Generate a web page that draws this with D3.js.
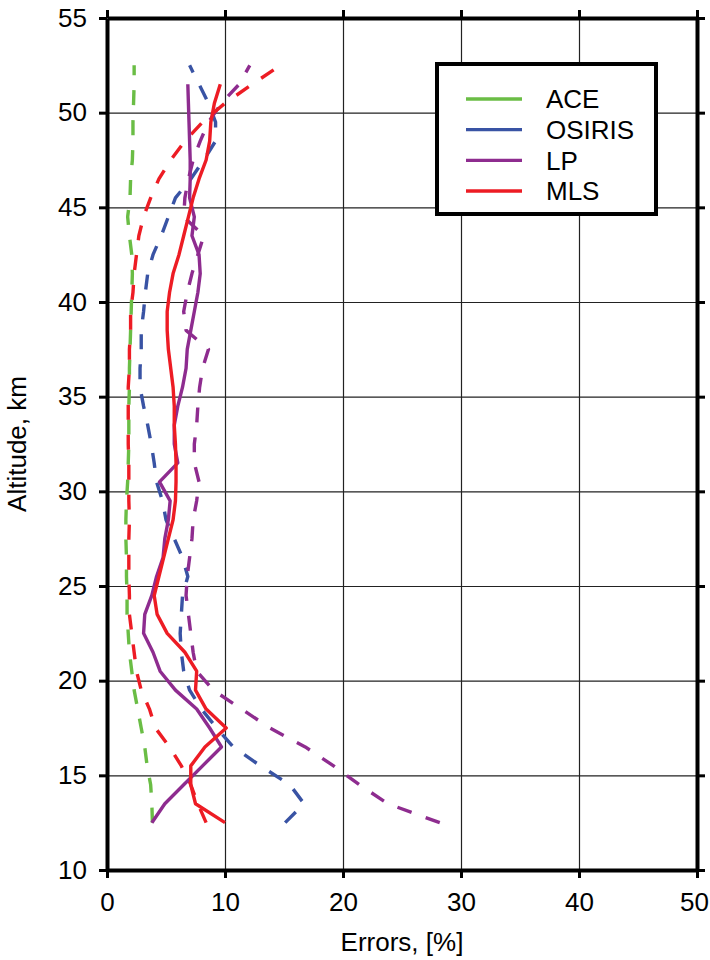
<!DOCTYPE html>
<html>
<head>
<meta charset="utf-8">
<script src="https://cdn.jsdelivr.net/npm/d3@7"></script>
<style>
  body { margin: 0; background: #fff; }
  text { font-family: "Liberation Sans", Arial, Helvetica, sans-serif; }
</style>
</head>
<body>
<svg id="chart"></svg>
<script>
// altitude levels, km
const alt52 = d3.range(12.5, 53, 1);   // 12.5 .. 52.5
const alt51 = d3.range(12.5, 52, 1);   // 12.5 .. 51.5

// errors in %, read from bottom (12.5 km) to top
const aceDashed = [3.85, 3.8, 3.7, 3.4, 3.2, 2.9, 2.6, 2.3, 2.1, 1.9, 1.8, 1.7, 1.7, 1.65, 1.65, 1.6, 1.6, 1.65, 1.75, 1.8,
  1.85, 1.85, 1.85, 1.9, 1.9, 1.95, 2.0, 2.05, 2.1, 2.15, 2.1, 1.9, 1.75, 1.95, 2.0, 2.15, 2.2, 2.2, 2.25, 2.3, 2.3];
const osirisDashed = [15.1, 16.7, 15.5, 13.0, 10.7, 9.3, 8.0, 7.0, 6.5, 6.3, 6.2, 6.3, 6.4, 6.85, 6.4, 5.7, 5.0, 4.7, 4.2, 4.0,
  3.75, 3.45, 3.1, 2.8, 2.8, 2.9, 2.9, 3.1, 3.25, 3.45, 3.9, 4.6, 5.2, 5.8, 7.1, 8.2, 9.2, 9.2, 8.6, 7.8, 7.0];
const lpSolid = [3.8, 4.9, 6.5, 8.1, 9.7, 8.7, 7.6, 5.8, 4.5, 3.9, 3.1, 3.2, 3.8, 4.2, 4.75, 4.9, 5.2, 5.35, 4.45, 6.0,
  5.7, 5.7, 6.0, 6.4, 6.7, 6.8, 7.1, 7.4, 7.7, 7.9, 7.8, 7.2, 7.4, 7.0, 7.05, 7.05, 7.0, 6.95, 6.9, 6.85];
const lpDashed = [28.2, 23.8, 21.4, 19.2, 16.8, 13.8, 11.4, 9.0, 7.6, 7.3, 7.1, 6.9, 6.7, 6.8, 7.0, 7.2, 7.3, 7.6, 7.8, 7.4,
  7.4, 7.6, 7.7, 7.85, 8.1, 8.6, 6.7, 6.5, 6.8, 7.2, 7.7, 8.2, 6.5, 6.6, 6.9, 7.3, 7.9, 8.6, 9.7, 11.2, 12.1];
const mlsSolid = [10.0, 7.5, 7.1, 7.1, 8.3, 10.1, 8.4, 7.5, 7.6, 6.6, 5.1, 4.25, 4.0, 4.4, 4.8, 5.2, 5.6, 5.8, 5.85, 5.85,
  5.8, 5.7, 5.7, 5.6, 5.4, 5.2, 5.1, 5.1, 5.3, 5.6, 6.1, 6.5, 6.9, 7.3, 7.8, 8.4, 8.7, 8.8, 9.1, 9.6];
const mlsDashed = [8.4, 7.7, 7.1, 6.3, 5.3, 4.1, 3.6, 2.9, 2.5, 2.3, 2.1, 1.9, 1.9, 1.85, 1.85, 1.85, 1.9, 1.85, 1.85, 1.85,
  1.8, 1.8, 1.8, 1.8, 1.9, 1.9, 2.0, 2.0, 2.2, 2.3, 2.5, 2.7, 3.1, 3.7, 4.4, 5.4, 6.6, 8.1, 10.0, 12.3, 14.7];

const xTicks = [0, 10, 20, 30, 40, 50];
const yTicks = [10, 15, 20, 25, 30, 35, 40, 45, 50, 55];
const legendNames = ["ACE", "OSIRIS", "LP", "MLS"];
const legendColors = ["#6abd45", "#3953a4", "#8e2c8f", "#ed1c24"];

const W = 710, H = 960;
const pLeft = 107, pRight = 697, pTop = 18, pBottom = 870;

const svg = d3.select("#chart").attr("width", W).attr("height", H);

const x = d3.scaleLinear().domain([0, 50]).range([pLeft, pRight]);
const y = d3.scaleLinear().domain([10, 55]).range([pBottom, pTop]);

// grid
const grid = svg.append("g").attr("class", "grid");
grid.append("g")
  .attr("transform", `translate(0,${pBottom})`)
  .call(d3.axisBottom(x).tickValues(xTicks.slice(1, -1)).tickSize(-(pBottom - pTop)).tickFormat(""))
  .call(g => g.select(".domain").remove());
grid.append("g")
  .attr("transform", `translate(${pLeft},0)`)
  .call(d3.axisLeft(y).tickValues(yTicks.slice(1, -1)).tickSize(-(pRight - pLeft)).tickFormat(""))
  .call(g => g.select(".domain").remove());
grid.selectAll("line").attr("stroke", "#222").attr("stroke-width", 1.2);

// series
const series = [
  { vals: aceDashed, alts: alt52, color: legendColors[0], dash: "15,15" },
  { vals: osirisDashed, alts: alt52, color: legendColors[1], dash: "15,15" },
  { vals: lpDashed, alts: alt52, color: legendColors[2], dash: "15,15" },
  { vals: mlsDashed, alts: alt52, color: legendColors[3], dash: "15,15" },
  { vals: lpSolid, alts: alt51, color: legendColors[2], dash: null },
  { vals: mlsSolid, alts: alt51, color: legendColors[3], dash: null },
];

const line = d3.line()
  .x(d => x(d[0]))
  .y(d => y(d[1]));

svg.append("g")
  .selectAll("path")
  .data(series)
  .join("path")
  .attr("d", s => line(s.vals.map((v, i) => [v, s.alts[i]])))
  .attr("fill", "none")
  .attr("stroke", s => s.color)
  .attr("stroke-width", 3.4)
  .attr("stroke-dasharray", s => s.dash)
  .attr("stroke-linejoin", "round");

// axes
const fs = 26;
function styleAxis(g) {
  g.select(".domain").attr("stroke", "#000").attr("stroke-width", 4);
  g.selectAll(".tick line").attr("stroke", "#000").attr("stroke-width", 3);
  g.selectAll(".tick text").attr("font-size", fs).attr("fill", "#000")
    .attr("font-family", "'Liberation Sans', Arial, sans-serif");
}

svg.append("g")
  .attr("transform", `translate(0,${pBottom})`)
  .call(d3.axisBottom(x).tickValues(xTicks).tickSize(8).tickSizeOuter(0).tickPadding(15))
  .call(styleAxis)
  .call(g => g.selectAll(".tick text").filter(d => d === 50).attr("dx", "-3"));
svg.append("g")
  .attr("transform", `translate(0,${pTop})`)
  .call(d3.axisTop(x).tickValues(xTicks).tickSize(8).tickSizeOuter(0).tickFormat(""))
  .call(styleAxis);
svg.append("g")
  .attr("transform", `translate(${pLeft},0)`)
  .call(d3.axisLeft(y).tickValues(yTicks).tickSize(8).tickSizeOuter(0).tickPadding(12))
  .call(styleAxis);
svg.append("g")
  .attr("transform", `translate(${pRight},0)`)
  .call(d3.axisRight(y).tickValues(yTicks).tickSize(8).tickSizeOuter(0).tickFormat(""))
  .call(styleAxis);

// axis titles
svg.append("text")
  .attr("x", (pLeft + pRight) / 2)
  .attr("y", 951)
  .attr("text-anchor", "middle")
  .attr("font-size", fs)
  .text("Errors, [%]");
svg.append("text")
  .attr("transform", `translate(26,${(pTop + pBottom) / 2}) rotate(-90)`)
  .attr("text-anchor", "middle")
  .attr("font-size", fs)
  .text("Altitude, km");

// legend
const lg = svg.append("g");
lg.append("rect")
  .attr("x", 437).attr("y", 64)
  .attr("width", 219).attr("height", 150)
  .attr("fill", "#fff")
  .attr("stroke", "#000")
  .attr("stroke-width", 4);
const legendY = d3.scalePoint().domain(legendNames).range([99, 191]);
const items = lg.selectAll("g.item")
  .data(legendNames)
  .join("g")
  .attr("class", "item")
  .attr("transform", d => `translate(0,${legendY(d)})`);
items.append("line")
  .attr("x1", 466).attr("x2", 522)
  .attr("stroke", (d, i) => legendColors[i])
  .attr("stroke-width", 3.4);
items.append("text")
  .attr("x", 546)
  .attr("dy", "0.36em")
  .attr("font-size", fs)
  .text(d => d);
</script>
</body>
</html>
